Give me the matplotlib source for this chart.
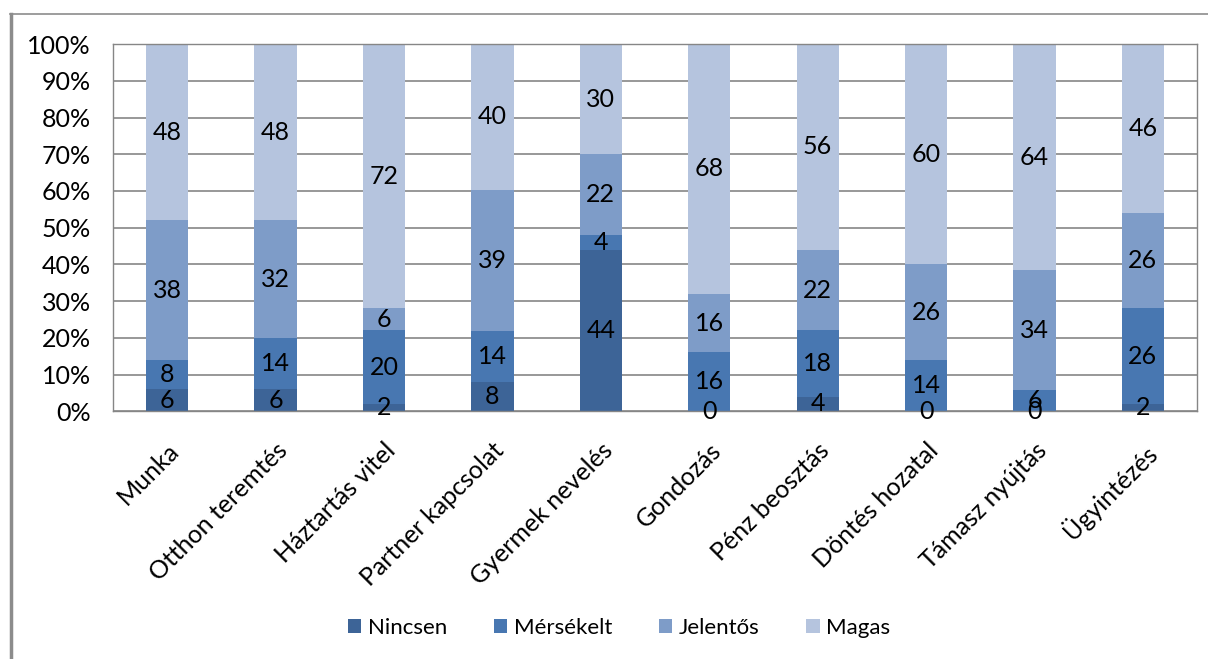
import numpy as np
import matplotlib.pyplot as plt
from matplotlib.lines import Line2D

plt.rcParams['font.family'] = ['Lato', 'DejaVu Sans']

categories = ['Munka', 'Otthon teremtés', 'Háztartás vitel', 'Partner kapcsolat',
              'Gyermek nevelés', 'Gondozás', 'Pénz beosztás', 'Döntés hozatal',
              'Támasz nyújtás', 'Ügyintézés']
nincsen = [6, 6, 2, 8, 44, 0, 4, 0, 0, 2]
mersekelt = [8, 14, 20, 14, 4, 16, 18, 14, 6, 26]
jelentos = [38, 32, 6, 39, 22, 16, 22, 26, 34, 26]
magas = [48, 48, 72, 40, 30, 68, 56, 60, 64, 46]

series = [('Nincsen', nincsen, '#3D6497'),
          ('Mérsékelt', mersekelt, '#4877B1'),
          ('Jelentős', jelentos, '#7E9CC8'),
          ('Magas', magas, '#B5C4DE')]

totals = np.sum([s[1] for s in series], axis=0)
x = np.arange(len(categories))
fs = 18

fig = plt.figure(figsize=(12.08, 6.59), dpi=100)
ax = fig.add_axes([0.0935, 0.376, 0.8975, 0.557])

bottom = np.zeros(len(categories))
for name, vals, color in series:
    vals = np.array(vals, dtype=float)
    share = vals / totals
    ax.bar(x, share, 0.39, bottom=bottom, color=color, label=name, zorder=2)
    for xi, b, h, v in zip(x, bottom, share, vals):
        ax.text(xi, b + h / 2, f'{int(v)}', ha='center', va='center',
                fontsize=fs, color='black', zorder=3)
    bottom += share

ax.set_xlim(-0.5, len(categories) - 0.5)
ax.set_ylim(0, 1)
ax.set_yticks(np.arange(0, 1.01, 0.1))
ax.set_yticklabels([f'{i}%' for i in range(0, 101, 10)], fontsize=fs)
ax.yaxis.grid(True, color='#868686', linewidth=1.2, zorder=0)
ax.set_axisbelow(True)
ax.tick_params(axis='y', length=0, pad=16)
ax.tick_params(axis='x', length=0, pad=20)
ax.set_xticks(x)
ax.set_xticklabels(categories, rotation=45, ha='right', rotation_mode='anchor',
                   fontsize=fs)
for sp in ax.spines.values():
    sp.set_color('#868686')
    sp.set_linewidth(1)

ax.legend(loc='center', bbox_to_anchor=(0.467, -0.59), ncol=4, frameon=False,
          fontsize=16, handlelength=0.6, handleheight=0.6, columnspacing=2.1,
          handletextpad=0.3)

# chart border (left and top edges)
fig.add_artist(Line2D([0.009, 0.009], [0, 0.978], transform=fig.transFigure,
                      color='#8c8c8c', linewidth=2.5))
fig.add_artist(Line2D([0.008, 1.0], [0.978, 0.978], transform=fig.transFigure,
                      color='#8c8c8c', linewidth=1.2))

fig.savefig('out.png', dpi=100)
